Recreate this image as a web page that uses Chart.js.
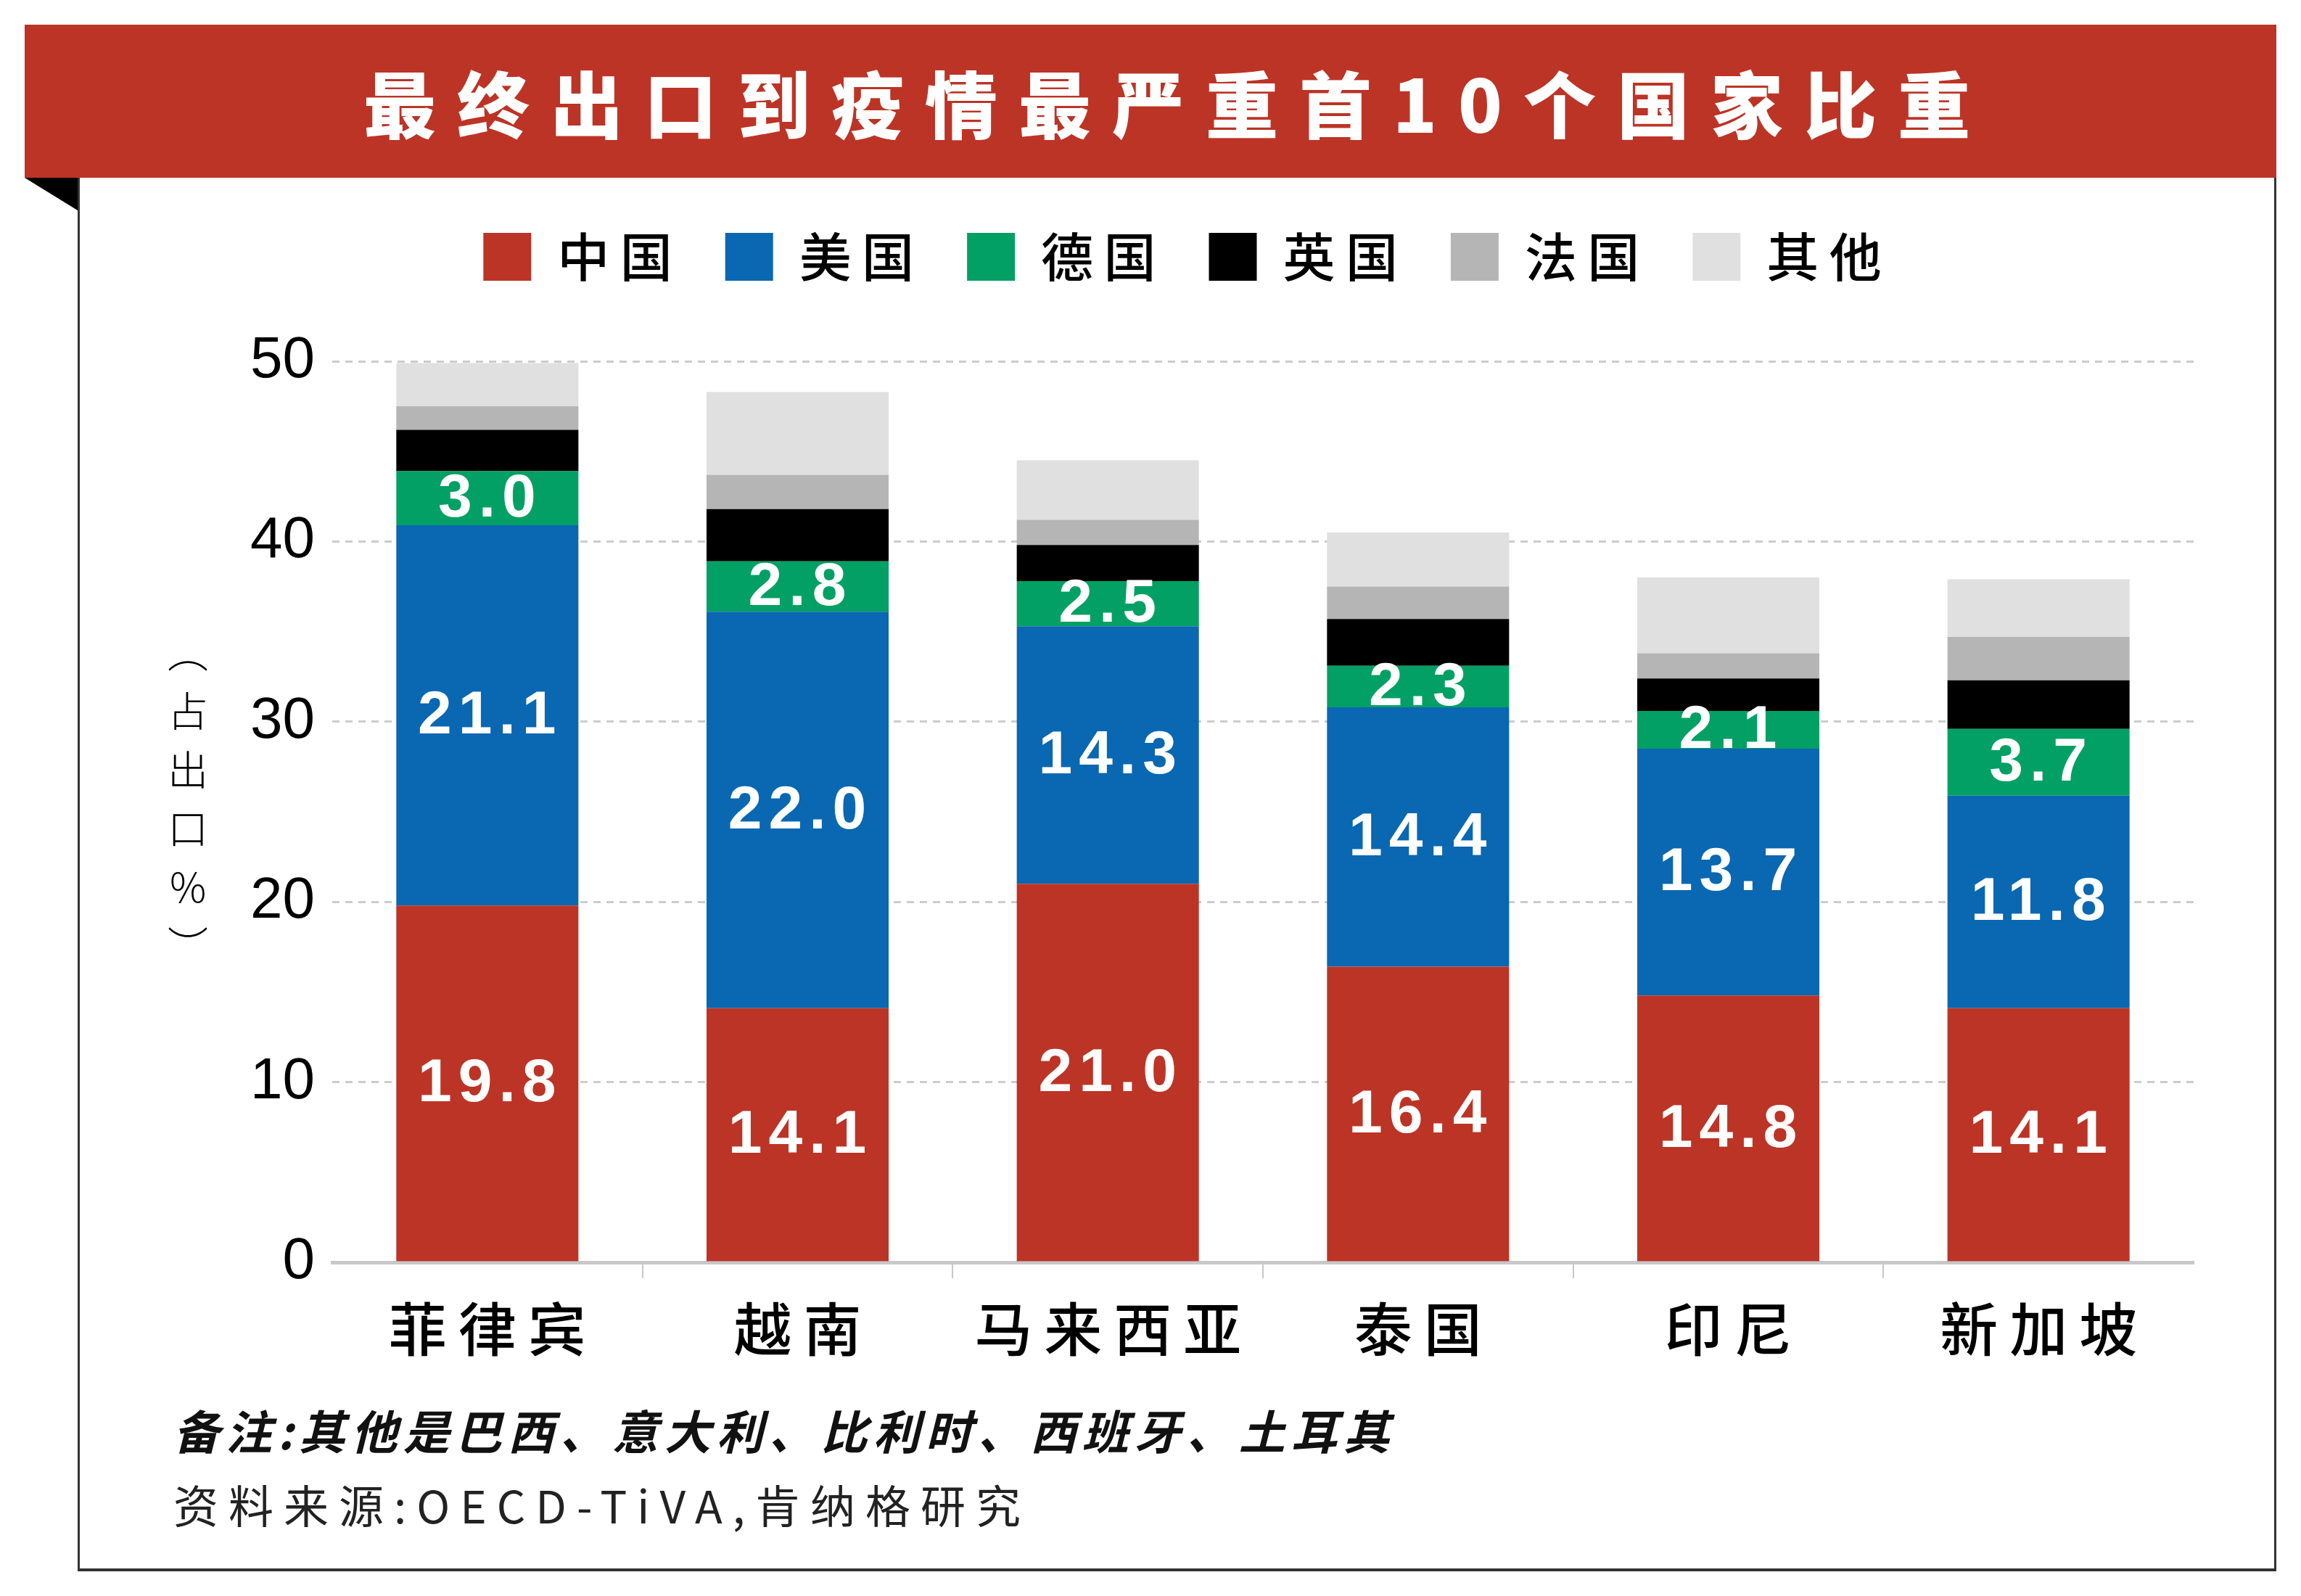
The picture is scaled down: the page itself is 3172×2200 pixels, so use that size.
<!DOCTYPE html>
<html>
<head>
<meta charset="utf-8">
<script src="https://cdn.jsdelivr.net/npm/chart.js@4.4.1/dist/chart.umd.min.js"></script>
<style>
  html, body { margin: 0; padding: 0; background: #fff; }
  body { width: 3172px; height: 2200px; position: relative; overflow: hidden; font-family: "Noto Sans CJK SC", sans-serif; }
  #banner {
    position: absolute; left: 34px; top: 34px; width: 3104px; height: 211px;
    box-sizing: border-box; padding-left: 74px;
    background: #bc3426; color: #fff; text-align: center;
    font: 900 100px "Noto Sans CJK SC", sans-serif; line-height: 211px; letter-spacing: 29px;
  }
  #fold { position: absolute; left: 34px; top: 245px; width: 73px; height: 45px; background: #000; clip-path: polygon(0 0, 100% 0, 100% 100%); }
  #frame { position: absolute; left: 107px; top: 245px; width: 3031px; height: 1921px; box-sizing: border-box;
    border-left: 3px solid #333; border-right: 3px solid #333; border-bottom: 4px solid #333; }
  #ytitle { position: absolute; left: 228px; top: 855px; width: 62px; display: flex; flex-direction: column; align-items: center;
    font: 300 56px "Noto Sans CJK SC", sans-serif; line-height: 81px; color: #000; }
  #ytitle span { display: block; height: 81px; }
  #note { position: absolute; left: 239px; top: 1924px; font: italic 700 64px "Noto Sans CJK SC", sans-serif; letter-spacing: 8px; color: #111; }
  #source { position: absolute; left: 239px; top: 2028px; font: 400 62px "Noto Sans CJK SC", sans-serif; letter-spacing: 14px; color: #222; }
  #chart { position: absolute; left: 0; top: 0; }
</style>
</head>
<body>
<div id="frame"></div>
<div id="fold"></div>
<div id="banner">最终出口到疫情最严重首10个国家比重</div>
<div id="ytitle"><span>︵</span><span>占</span><span>出</span><span>口</span><span>%</span><span>︶</span></div>
<div id="note">备注:其他是巴西、意大利、比利时、西班牙、土耳其</div>
<div id="source">资料来源:OECD-TiVA,肯纳格研究</div>
<canvas id="chart" width="3172" height="2200"></canvas>
<script>
const categories = ["菲律宾", "越南", "马来西亚", "泰国", "印尼", "新加坡"];
const seriesNames = ["中国", "美国", "德国", "英国", "法国", "其他"];
const seriesColors = ["#bc3426", "#0a67b1", "#02a064", "#000000", "#b5b5b5", "#e0e0e0"];

const china = [19.8, 14.1, 21.0, 16.4, 14.8, 14.1];
const usa = [21.1, 22.0, 14.3, 14.4, 13.7, 11.8];
const germany = [3.0, 2.8, 2.5, 2.3, 2.1, 3.7];
const uk = [2.3, 2.9, 2.0, 2.6, 1.8, 2.7];
const france = [1.3, 1.9, 1.4, 1.8, 1.4, 2.4];
const others = [2.4, 4.6, 3.3, 3.0, 4.2, 3.2];

const yTicks = [0, 10, 20, 30, 40, 50];

// only the first three series carry value labels
const labeledSeries = [0, 1, 2];

const spaced = (s, gap) => s.split("").join(gap);

const segmentLabels = {
  id: "segmentLabels",
  afterDatasetsDraw(chart) {
    const ctx = chart.ctx;
    ctx.save();
    ctx.font = 'bold 84px "Liberation Sans", Arial, sans-serif';
    ctx.fillStyle = "#ffffff";
    ctx.textAlign = "center";
    ctx.textBaseline = "middle";
    ctx.letterSpacing = "9px";
    labeledSeries.forEach((di) => {
      const meta = chart.getDatasetMeta(di);
      meta.data.forEach((bar, i) => {
        const v = chart.data.datasets[di].data[i];
        ctx.fillText(v.toFixed(1), bar.x + 4, (bar.y + bar.base) / 2 + 2);
      });
    });
    ctx.restore();
  }
};

// push the plot area down below the legend
const legendGap = {
  id: "legendGap",
  beforeInit(chart) {
    const fit = chart.legend.fit;
    chart.legend.fit = function () {
      fit.bind(chart.legend)();
      this.height += 98;
    };
  }
};

const values = [china, usa, germany, uk, france, others];

new Chart(document.getElementById("chart"), {
  type: "bar",
  data: {
    labels: categories.map((c) => spaced(c, "\u2009")),
    datasets: seriesNames.map((name, i) => ({
      label: spaced(name, "\u2009"),
      data: values[i],
      backgroundColor: seriesColors[i],
      borderWidth: 0,
      categoryPercentage: 1,
      barPercentage: 0.587
    }))
  },
  options: {
    responsive: false,
    animation: false,
    devicePixelRatio: 1,
    layout: { padding: { left: 236, right: 148, top: 245, bottom: 260 } },
    plugins: {
      legend: {
        position: "top",
        labels: {
          boxWidth: 66,
          boxHeight: 66,
          padding: 73,
          color: "#000",
          font: { family: '"Noto Sans CJK SC", sans-serif', size: 72, weight: "500" }
        }
      },
      tooltip: { enabled: false }
    },
    scales: {
      x: {
        stacked: true,
        afterFit: (scale) => { scale.height = 200; },
        grid: {
          drawOnChartArea: false,
          drawTicks: true,
          tickLength: 22,
          lineWidth: 2,
          color: (ctx) => (ctx.index > 0 && ctx.index < categories.length ? "#c8c8c8" : "transparent")
        },
        border: { display: true, color: "#c8c8c8", width: 5 },
        ticks: {
          padding: 22,
          color: "#000",
          font: { family: '"Noto Sans CJK SC", sans-serif', size: 80, weight: "500" }
        }
      },
      y: {
        stacked: true,
        min: 0,
        max: 50,
        afterFit: (scale) => { scale.width = 222; },
        afterBuildTicks: (scale) => { scale.ticks = yTicks.map((v) => ({ value: v })); },
        grid: {
          drawTicks: false,
          lineWidth: 3,
          color: (ctx) => (ctx.tick && ctx.tick.value === 0 ? "transparent" : "#cccccc")
        },
        border: { display: false, dash: [10, 8] },
        ticks: {
          padding: 24,
          color: "#000",
          font: { family: '"Liberation Sans", Arial, sans-serif', size: 80 }
        }
      }
    }
  },
  plugins: [segmentLabels, legendGap]
});
</script>
</body>
</html>
